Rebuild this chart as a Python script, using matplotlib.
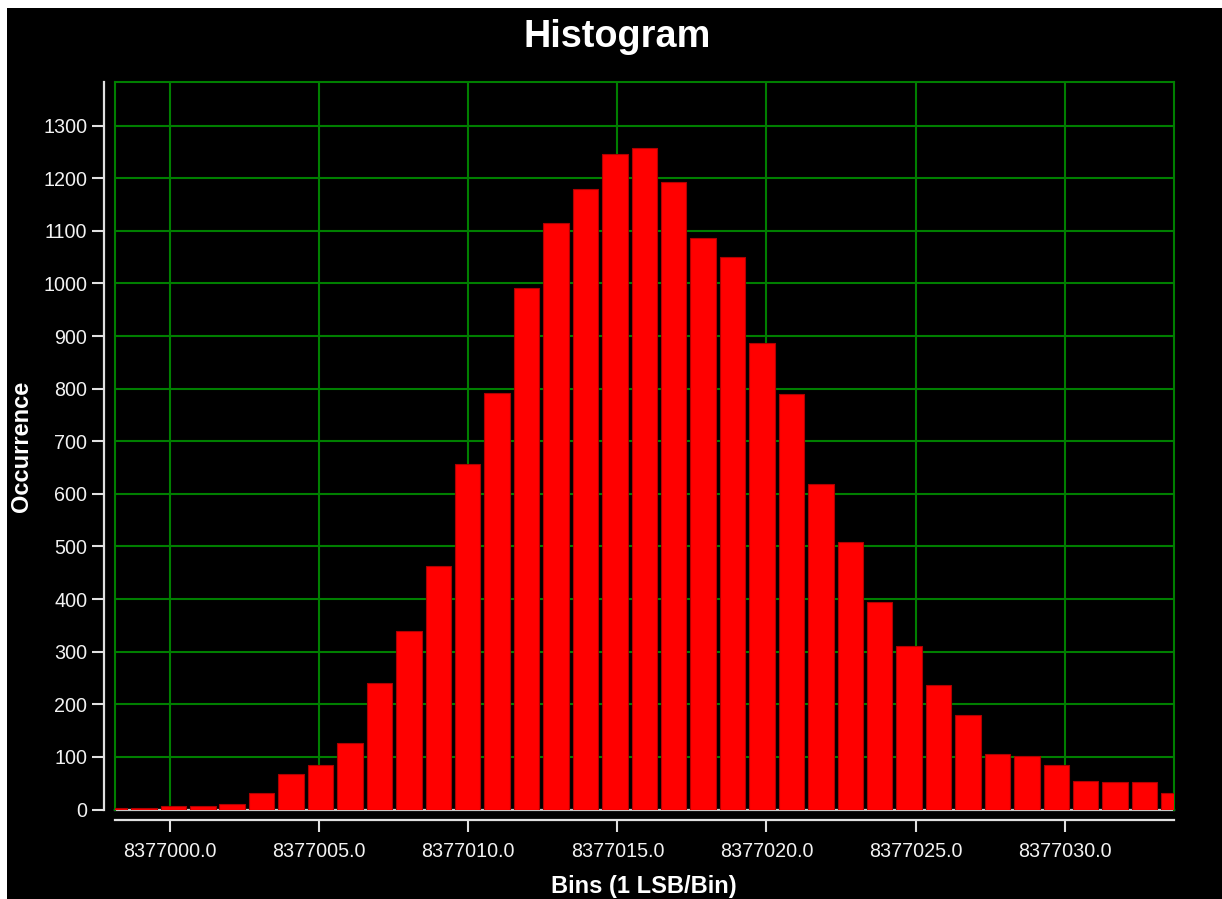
import numpy as np
import matplotlib
matplotlib.use("Agg")
import matplotlib.pyplot as plt
from matplotlib.patches import Rectangle
from matplotlib.ticker import FuncFormatter

# ---- data ----
bin_first_center = 8376998.13
bin_last_center = 8377033.67
counts = [3, 3, 6, 6, 10, 32, 67, 85, 127, 240, 339, 463, 657, 792, 991,
          1115, 1179, 1246, 1257, 1193, 1086, 1051, 887, 789, 619, 509,
          395, 311, 236, 180, 105, 102, 84, 55, 53, 53, 31]
x_ticks = [8377000, 8377005, 8377010, 8377015, 8377020, 8377025, 8377030]
y_ticks = list(range(0, 1400, 100))
title = "Histogram"
xlabel = "Bins (1 LSB/Bin)"
ylabel = "Occurrence"

centers = np.linspace(bin_first_center, bin_last_center, len(counts))
step = centers[1] - centers[0]

W, H = 1222, 899
plt.rcParams['font.family'] = ['Liberation Sans', 'DejaVu Sans']
fig = plt.figure(figsize=(W / 100, H / 100), dpi=100, facecolor='white')
fig.patches.append(Rectangle((7 / W, 0), 1 - 7 / W, 1 - 8 / H,
                             transform=fig.transFigure, facecolor='black',
                             edgecolor='none', zorder=-10))

left, right, top, bottom = 114.5, 1174, 82, 809.5
ax = fig.add_axes([left / W, (H - bottom) / H, (right - left) / W, (bottom - top) / H])
ax.set_zorder(1)
ax.set_facecolor('black')

green = '#007f00'
ax.bar(centers, counts, width=step * 0.865, color='#ff0000',
       edgecolor='#b00000', linewidth=0.8, zorder=3)
ax.axhline(0, color='#c8c8c8', lw=1.6, zorder=2, clip_on=False)

ax.set_xlim(bin_first_center, bin_last_center)
ax.set_ylim(0, 1383)
ax.set_xticks(x_ticks)
ax.set_yticks(y_ticks)
ax.xaxis.set_major_formatter(FuncFormatter(lambda v, p: f"{v:.1f}"))

ax.grid(True, color=green, linewidth=1.5, zorder=1)
ax.set_axisbelow(True)

for s in ['top', 'right']:
    ax.spines[s].set_color(green)
    ax.spines[s].set_linewidth(1.5)
ax.spines['left'].set_position(('outward', 7.5))
ax.spines['bottom'].set_position(('outward', 7.8))
for s in ['left', 'bottom']:
    ax.spines[s].set_color('#e0e0e0')
    ax.spines[s].set_linewidth(1.6)
ax.plot([0, 0], [0, 1], transform=ax.transAxes, color=green, lw=1.5,
        clip_on=False, zorder=2)

ax.tick_params(axis='both', colors='#e0e0e0', length=8.5, width=1.5,
               labelsize=14.2, labelcolor='#f2f2f2')
ax.tick_params(axis='x', pad=7)
ax.tick_params(axis='y', pad=3.5)

fig.text(617 / W, 1 - 47.3 / H, title, ha='center', va='baseline',
         fontsize=27.3, fontweight='bold', color='white')
fig.text(644 / W, 1 - 893.3 / H, xlabel, ha='center', va='baseline',
         fontsize=17, fontweight='bold', color='white')
fig.text(22 / W, 1 - 446 / H, ylabel, ha='center', va='center', rotation=90,
         fontsize=17, fontweight='bold', color='white')

fig.savefig('out.png', dpi=100, facecolor=fig.get_facecolor())
